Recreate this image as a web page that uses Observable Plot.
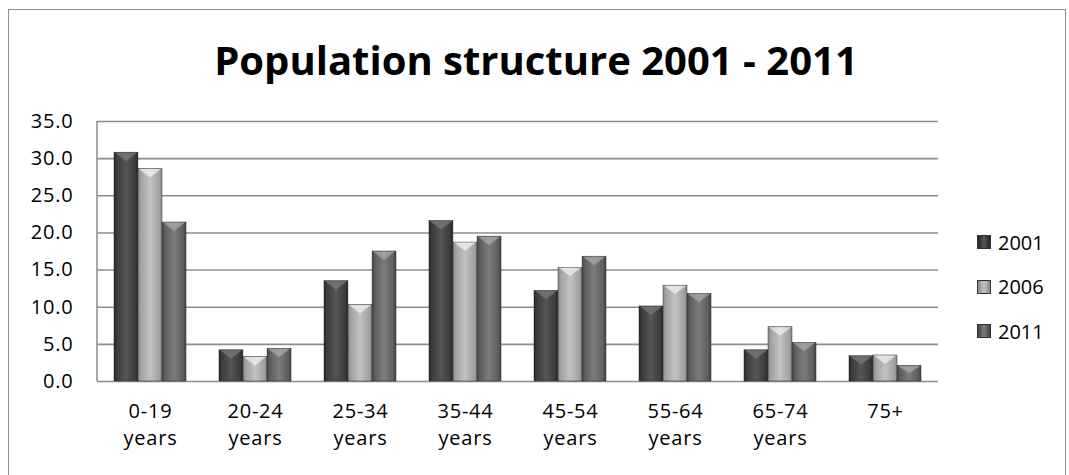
<!DOCTYPE html>
<html>
<head>
<meta charset="utf-8">
<script src="https://cdn.jsdelivr.net/npm/d3@7"></script>
<script src="https://cdn.jsdelivr.net/npm/@observablehq/plot@0.6"></script>
<style>
  body { margin: 0; background: #fff; }
  #wrap { position: relative; width: 1069px; height: 475px; overflow: hidden; font-family: "Open Sans", sans-serif; }
  #frame { position: absolute; left: 8px; top: 9px; width: 1058px; height: 480px; border: 1px solid #8c8c8c; box-sizing: border-box; }
  #title { position: absolute; left: 0; width: 1072px; top: 32px; text-align: center; font-size: 40px; font-weight: bold; color: #000; }
  #chart { position: absolute; left: 0; top: 0; }
  #legend { position: absolute; left: 977px; top: 220px; font-size: 20px; color: #000; }
  #legend .item { display: flex; align-items: center; height: 44.5px; }
  #legend .sw { width: 12px; height: 12px; margin-right: 7px; }
</style>
</head>
<body>
<div id="wrap">
  <div id="frame"></div>
  <div id="title">Population structure 2001 - 2011</div>
  <div id="chart"></div>
  <div id="legend"></div>
</div>
<script>
const categories = ["0-19 years", "20-24 years", "25-34 years", "35-44 years", "45-54 years", "55-64 years", "65-74 years", "75+"];
const years = ["2001", "2006", "2011"];
const v2001 = [30.8, 4.2, 13.5, 21.6, 12.2, 10.1, 4.2, 3.4];
const v2006 = [28.6, 3.3, 10.3, 18.7, 15.3, 12.9, 7.3, 3.5];
const v2011 = [21.4, 4.4, 17.5, 19.5, 16.8, 11.8, 5.2, 2.1];
const yTicks = [0, 5, 10, 15, 20, 25, 30, 35];

const seriesValues = [v2001, v2006, v2011];
const colors = {
  "2001": ["#262626", "#555555", "#3c3c3c", "#7a7a7a"],
  "2006": ["#8a8a8a", "#c2c2c2", "#a2a2a2", "#f0f0f0"],
  "2011": ["#434343", "#7c7c7c", "#5e5e5e", "#a8a8a8"]
};

const W = 1069, H = 475;
const margins = {marginTop: 121, marginBottom: 94, marginLeft: 97, marginRight: 131};
const pad = 0.314;

const xScale = Plot.scale({x: {type: "band", domain: categories, range: [margins.marginLeft, W - margins.marginRight], paddingInner: pad, paddingOuter: pad / 2}});
const bw = xScale.bandwidth;
const sub = bw / years.length;

const rows = years.flatMap((yr, i) => categories.map((c, j) => ({year: yr, idx: i, category: c, value: seriesValues[i][j]})));

const defs = () => {
  const d = d3.create("svg:defs");
  years.forEach(y => {
    const g = d.append("linearGradient").attr("id", "g" + y).attr("x1", "0").attr("x2", "1").attr("y1", "0").attr("y2", "0");
    const c = colors[y];
    g.append("stop").attr("offset", "0%").attr("stop-color", c[0]);
    g.append("stop").attr("offset", "12%").attr("stop-color", c[2]);
    g.append("stop").attr("offset", "50%").attr("stop-color", c[1]);
    g.append("stop").attr("offset", "88%").attr("stop-color", c[2]);
    g.append("stop").attr("offset", "100%").attr("stop-color", c[0]);
  });
  return d.node();
};

// left axis line drawn from the plot's own dimensions
const leftAxisLine = (index, scales, values, dim) =>
  d3.create("svg:line")
    .attr("x1", dim.marginLeft).attr("x2", dim.marginLeft)
    .attr("y1", dim.marginTop).attr("y2", dim.height - dim.marginBottom)
    .attr("stroke", "#8c8c8c").attr("stroke-width", 1.5).node();

// bevelled tops of the bars, positioned through the plot's scales
const bevels = (index, scales) => {
  const g = d3.create("svg:g");
  const band = typeof scales.x.bandwidth === "function" ? scales.x.bandwidth() : bw;
  const s = band / years.length;
  rows.forEach(r => {
    const x0 = scales.x(r.category) + r.idx * s, x1 = x0 + s;
    const yt = scales.y(r.value), yb = scales.y(0);
    const depth = Math.min(9, (yb - yt) / 2);
    g.append("polygon")
      .attr("points", `${x0 + 1},${yt + 0.5} ${x1 - 1},${yt + 0.5} ${(x0 + x1) / 2},${yt + depth}`)
      .attr("fill", colors[r.year][3]).attr("fill-opacity", 0.75);
  });
  return g.node();
};

const barMarks = years.map((yr, i) => Plot.barY(rows.filter(r => r.year === yr), {
  x: "category", y: "value",
  fill: `url(#g${yr})`,
  stroke: "#2a2a2a", strokeWidth: 0.5,
  insetLeft: i * sub, insetRight: (years.length - 1 - i) * sub
}));

const fmtX = d => d.replace(" ", "\n");

const plot = Plot.plot({
  width: W, height: H, ...margins,
  style: {fontFamily: "Open Sans, sans-serif", fontSize: "20px", color: "#000", background: "transparent", letterSpacing: "0.8px"},
  x: {type: "band", domain: categories, paddingInner: pad, paddingOuter: pad / 2, label: null, axis: null},
  y: {domain: [0, 35], ticks: yTicks, label: null, axis: null},
  marks: [
    defs,
    Plot.gridY(yTicks, {stroke: "#8c8c8c", strokeOpacity: 1, strokeWidth: 1.6}),
    leftAxisLine,
    ...barMarks,
    bevels,
    Plot.axisX({tickSize: 0, tickPadding: 17, lineHeight: 1.35, fontSize: 20, tickFormat: fmtX, label: null}),
    Plot.axisY({ticks: yTicks, tickFormat: d3.format(".1f"), tickSize: 0, tickPadding: 24, fontSize: 20, label: null})
  ]
});
document.getElementById("chart").appendChild(plot);

const legend = d3.select("#legend");
years.forEach(y => {
  const it = legend.append("div").attr("class", "item");
  it.append("div").attr("class", "sw").style("background", `linear-gradient(90deg, ${colors[y][0]}, ${colors[y][1]}, ${colors[y][0]})`).style("border", "1px solid #333");
  it.append("span").text(y);
});
</script>
</body>
</html>
